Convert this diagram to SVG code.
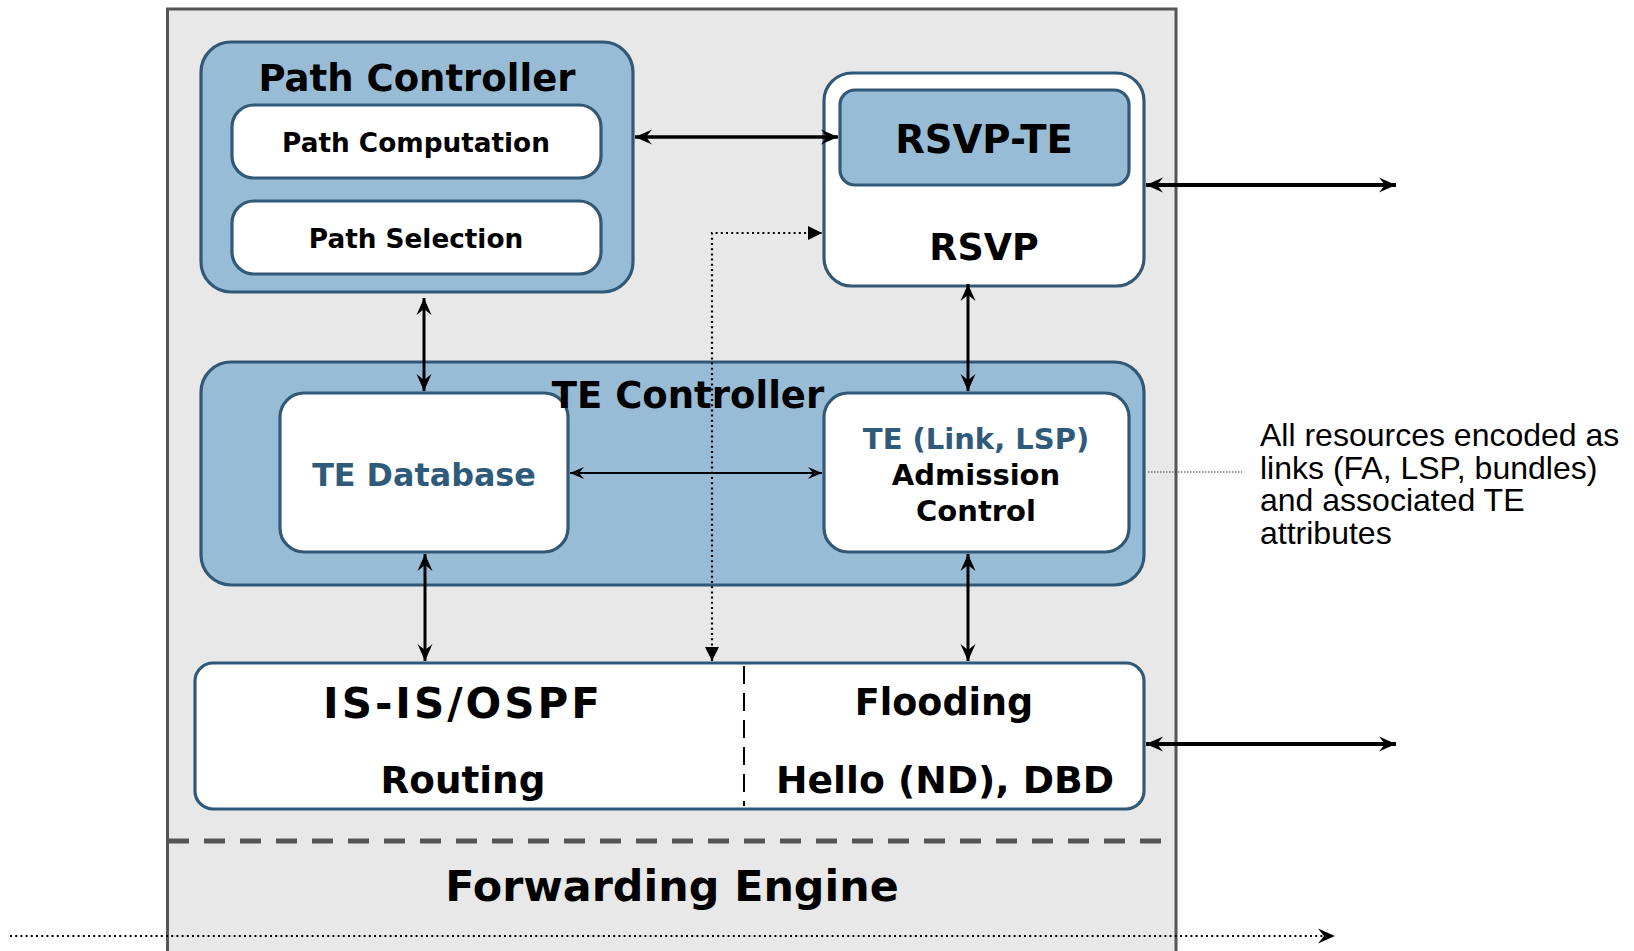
<svg xmlns="http://www.w3.org/2000/svg" width="1634" height="951" viewBox="0 0 1634 951">
  <style>
    .panel { fill: #98bcd6; stroke: #325877; stroke-width: 3.2; }
    .card { fill: #ffffff; stroke: #325877; stroke-width: 3.2; }
    .t { font-family: "DejaVu Sans", Verdana, sans-serif; font-weight: bold; text-anchor: middle; fill: #000; }
    .blue { fill: #2f5a7a; }
    .note { font-family: "Liberation Sans", Arial, sans-serif; font-size: 32px; fill: #000; }
    .link { stroke: #000; fill: none; }
    .dots { stroke: #000; fill: none; stroke-width: 2.2; stroke-dasharray: 2 3.2; }
  </style>
  <defs>
    <marker id="stealth" viewBox="-18 -9 20 18" refX="0" refY="0" markerWidth="20" markerHeight="18" markerUnits="userSpaceOnUse" orient="auto-start-reverse">
      <path d="M0,0 L-17,-7.5 L-11,0 L-17,7.5 Z" fill="#000"/>
    </marker>
    <marker id="stealthSmall" viewBox="-16 -8 18 16" refX="0" refY="0" markerWidth="18" markerHeight="16" markerUnits="userSpaceOnUse" orient="auto-start-reverse">
      <path d="M0,0 L-14,-6 L-9,0 L-14,6 Z" fill="#000"/>
    </marker>
    <marker id="tri" viewBox="-16 -8 18 16" refX="0" refY="0" markerWidth="18" markerHeight="16" markerUnits="userSpaceOnUse" orient="auto-start-reverse">
      <path d="M0,0 L-14,-7 L-14,7 Z" fill="#000"/>
    </marker>
  </defs>

  <rect x="0" y="0" width="1634" height="951" fill="#ffffff"/>

  <!-- router frame -->
  <g id="router">
    <rect x="167.5" y="9" width="1008.5" height="970" fill="#e8e8e8" stroke="#555555" stroke-width="3"/>
    <line x1="168" y1="841" x2="1165" y2="841" stroke="#555555" stroke-width="5" stroke-dasharray="21 15"/>
  </g>

  <g id="path-controller">
    <rect class="panel" x="201" y="42" width="432" height="250" rx="30"/>
    <text class="t" x="417" y="91" font-size="37">Path Controller</text>
  </g>
  <g id="path-computation">
    <rect class="card" x="232" y="105" width="369" height="73" rx="22"/>
    <text class="t" x="416" y="152" font-size="26.3">Path Computation</text>
  </g>
  <g id="path-selection">
    <rect class="card" x="232" y="201" width="369" height="73" rx="22"/>
    <text class="t" x="416" y="248" font-size="26.3">Path Selection</text>
  </g>

  <g id="rsvp">
    <rect class="card" x="824" y="73" width="320" height="213" rx="28"/>
    <text class="t" x="984" y="260" font-size="36.5">RSVP</text>
  </g>
  <g id="rsvp-te">
    <rect class="panel" x="840" y="90" width="289" height="95" rx="15"/>
    <text class="t" x="984" y="153" font-size="38.5">RSVP-TE</text>
  </g>

  <g id="te-controller">
    <rect class="panel" x="201" y="362" width="943" height="223" rx="30"/>
  </g>
  <g id="te-database">
    <rect class="card" x="280" y="393" width="288" height="159" rx="24"/>
    <text class="t blue" x="424" y="486" font-size="31.8">TE Database</text>
  </g>
  <g id="admission-control">
    <rect class="card" x="824" y="393" width="305" height="159" rx="24"/>
    <text class="t blue" x="976" y="449" font-size="29">TE (Link, LSP)</text>
    <text class="t" x="976" y="485" font-size="29">Admission</text>
    <text class="t" x="976" y="521" font-size="29">Control</text>
  </g>
  <!-- controller title is drawn over the database card edge -->
  <text class="t" x="688" y="408" font-size="37">TE Controller</text>

  <g id="igp">
    <rect class="card" x="195" y="663" width="949" height="146" rx="18"/>
    <line x1="744" y1="666" x2="744" y2="806" stroke="#000" stroke-width="2" stroke-dasharray="18 9"/>
    <text class="t" x="463" y="718" font-size="42" letter-spacing="3">IS-IS/OSPF</text>
    <text class="t" x="463" y="793" font-size="37.3">Routing</text>
    <text class="t" x="944" y="715" font-size="36.5">Flooding</text>
    <text class="t" x="945" y="793" font-size="37.7">Hello (ND), DBD</text>
  </g>

  <g id="forwarding-engine">
    <text class="t" x="672" y="901" font-size="42.8">Forwarding Engine</text>
  </g>

  <g id="annotation">
    <text class="note" x="1260" y="446">All resources encoded as</text>
    <text class="note" x="1260" y="478.5">links (FA, LSP, bundles)</text>
    <text class="note" x="1260" y="511">and associated TE</text>
    <text class="note" x="1260" y="543.5">attributes</text>
  </g>

  <g id="connectors">
    <line class="link" x1="635" y1="137" x2="838" y2="137" stroke-width="3.4" marker-start="url(#stealth)" marker-end="url(#stealth)"/>
    <line class="link" x1="1146" y1="185" x2="1396" y2="185" stroke-width="4" marker-start="url(#stealth)" marker-end="url(#stealth)"/>
    <line class="link" x1="424" y1="298" x2="424" y2="391" stroke-width="3" marker-start="url(#stealth)" marker-end="url(#stealth)"/>
    <line class="link" x1="968" y1="284" x2="968" y2="391" stroke-width="3" marker-start="url(#stealth)" marker-end="url(#stealth)"/>
    <line class="link" x1="570" y1="473" x2="822" y2="473" stroke-width="2.2" marker-start="url(#stealthSmall)" marker-end="url(#stealthSmall)"/>
    <line class="link" x1="425" y1="554" x2="425" y2="661" stroke-width="3" marker-start="url(#stealth)" marker-end="url(#stealth)"/>
    <line class="link" x1="968" y1="554" x2="968" y2="661" stroke-width="3" marker-start="url(#stealth)" marker-end="url(#stealth)"/>
    <path class="dots" d="M712,661 V233 H822" marker-start="url(#tri)" marker-end="url(#tri)"/>
    <line class="link" x1="1146" y1="744" x2="1396" y2="744" stroke-width="4" marker-start="url(#stealth)" marker-end="url(#stealth)"/>
    <line x1="1148" y1="472" x2="1242" y2="472" stroke="#333" stroke-width="1.2" stroke-dasharray="1.5 1.5"/>
    <line class="dots" x1="10" y1="936" x2="1335" y2="936" stroke-width="2.6" stroke-dasharray="1.8 1.4" marker-end="url(#stealth)"/>
  </g>
</svg>
